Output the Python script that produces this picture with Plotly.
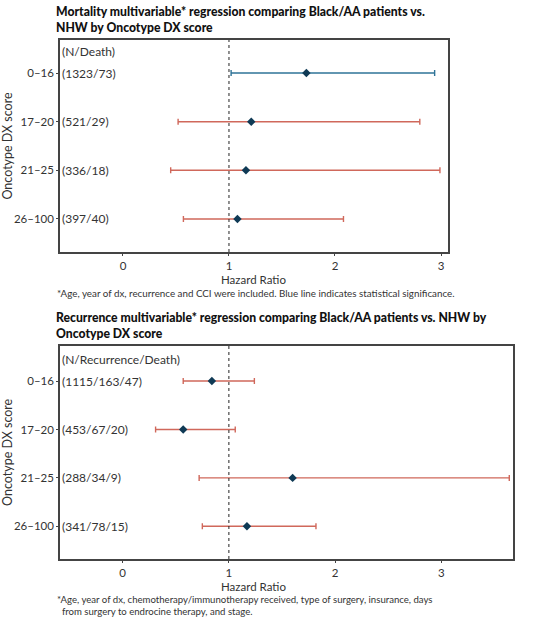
import plotly.graph_objects as go

# data
groups = ["0\u201316", "17\u201320", "21\u201325", "26\u2013100"]
ypos = [4, 3, 2, 1]

mort_hr = [1.73, 1.21, 1.16, 1.08]
mort_lo = [1.02, 0.52, 0.45, 0.57]
mort_hi = [2.94, 2.80, 2.99, 2.08]
mort_sig = [True, False, False, False]
mort_n = ["(1323/73)", "(521/29)", "(336/18)", "(397/40)"]

rec_hr = [0.84, 0.57, 1.60, 1.17]
rec_lo = [0.57, 0.31, 0.72, 0.75]
rec_hi = [1.24, 1.06, 3.64, 1.82]
rec_sig = [False, False, False, False]
rec_n = ["(1115/163/47)", "(453/67/20)", "(288/34/9)", "(341/78/15)"]

W, H = 550, 618
FONT = "Lato"
BLUE = "#2f7498"
RED = "#d0685b"
NAVY = "#0f3a55"
TXT = "#333333"


def px(v):
    return v / W


def py(v):
    return 1 - v / H


fig = go.Figure()


def add_panel(hr, lo, hi, sig, xa, ya):
    for flag, col in [(True, BLUE), (False, RED)]:
        idx = [i for i in range(len(hr)) if sig[i] == flag]
        if not idx:
            continue
        fig.add_trace(go.Scatter(
            x=[hr[i] for i in idx], y=[ypos[i] for i in idx],
            mode="markers", xaxis=xa, yaxis=ya,
            marker=dict(size=0.1, color=col, opacity=0),
            error_x=dict(type="data", symmetric=False,
                         array=[hi[i] - hr[i] for i in idx],
                         arrayminus=[hr[i] - lo[i] for i in idx],
                         color=col, thickness=1.4, width=3),
            showlegend=False, hoverinfo="skip"))
    fig.add_trace(go.Scatter(
        x=hr, y=ypos, mode="markers", xaxis=xa, yaxis=ya,
        marker=dict(symbol="diamond", size=6.5, color=NAVY),
        showlegend=False))


add_panel(mort_hr, mort_lo, mort_hi, mort_sig, "x", "y")
add_panel(rec_hr, rec_lo, rec_hi, rec_sig, "x2", "y2")

axcommon = dict(showgrid=False, zeroline=False, showline=True, mirror=True,
                linecolor="#444444", linewidth=1.5, ticks="outside",
                ticklen=2, tickcolor="#444444",
                tickfont=dict(family=FONT, size=11.5, color=TXT))
ytitle = dict(text="Oncotype DX score", standoff=5,
              font=dict(family=FONT, size=12.5, color=TXT))

fig.update_layout(
    width=W, height=H, margin=dict(l=0, r=0, t=0, b=0),
    paper_bgcolor="white", plot_bgcolor="white",
    font=dict(family=FONT, color=TXT),
    xaxis=dict(domain=[px(60), px(448)], range=[-0.594, 3.066],
               tickvals=[0, 1, 2, 3], anchor="y", **axcommon),
    yaxis=dict(domain=[py(252), py(40)], range=[0.32, 4.68],
               tickvals=ypos, ticktext=groups, anchor="x",
               title=ytitle, **axcommon),
    xaxis2=dict(domain=[px(60), px(513)], range=[-0.59, 3.675],
                tickvals=[0, 1, 2, 3], anchor="y2", **axcommon),
    yaxis2=dict(domain=[py(559), py(345.7)], range=[0.325, 4.73],
                tickvals=ypos, ticktext=groups, anchor="x2",
                title=ytitle, **axcommon),
)

for xr, yr in [("x", "y domain"), ("x2", "y2 domain")]:
    fig.add_shape(type="line", x0=1, x1=1, y0=0, y1=1, xref=xr, yref=yr,
                  line=dict(color="#222222", width=1, dash="dot"))

# row labels inside the plots
for labels, head, xr, yr in [(mort_n, "(N/Death)", "x domain", "y"),
                             (rec_n, "(N/Recurrence/Death)", "x2 domain", "y2")]:
    for lab, yv in zip([head] + labels, [4.45] + ypos):
        fig.add_annotation(text=lab, x=0.0, y=yv, xref=xr, yref=yr,
                           xanchor="left", yanchor="middle", showarrow=False,
                           font=dict(family=FONT, size=12, color=TXT))

notes = [
    ("Mortality multivariable* regression comparing Black/AA patients vs.<br>NHW by Oncotype DX score",
     54, 19, 12.2, "#111111", 900, "left"),
    ("Recurrence multivariable* regression comparing Black/AA patients vs. NHW by<br>Oncotype DX score",
     54, 326, 12.2, "#111111", 900, "left"),
    ("Hazard Ratio", 253, 280, 11.5, TXT, 400, "center"),
    ("Hazard Ratio", 253, 586.5, 11.5, TXT, 400, "center"),
    ("*Age, year of dx, recurrence and CCI were included. Blue line indicates statistical significance.",
     55, 292.5, 9.8, TXT, 400, "left"),
    ("*Age, year of dx, chemotherapy/immunotherapy received, type of surgery, insurance, days<br>  from surgery to endrocine therapy, and stage.",
     55, 605, 9.6, TXT, 400, "left"),
]
for txt, x, y, sz, col, wt, anc in notes:
    fig.add_annotation(text=txt, x=px(x), y=py(y), xref="paper", yref="paper",
                       xanchor=anc, yanchor="middle", align="left",
                       showarrow=False,
                       font=dict(family=FONT, size=sz, color=col, weight=wt))

fig.write_html("out.html", config={"displayModeBar": False},
               post_script="document.body.style.margin='0';")
